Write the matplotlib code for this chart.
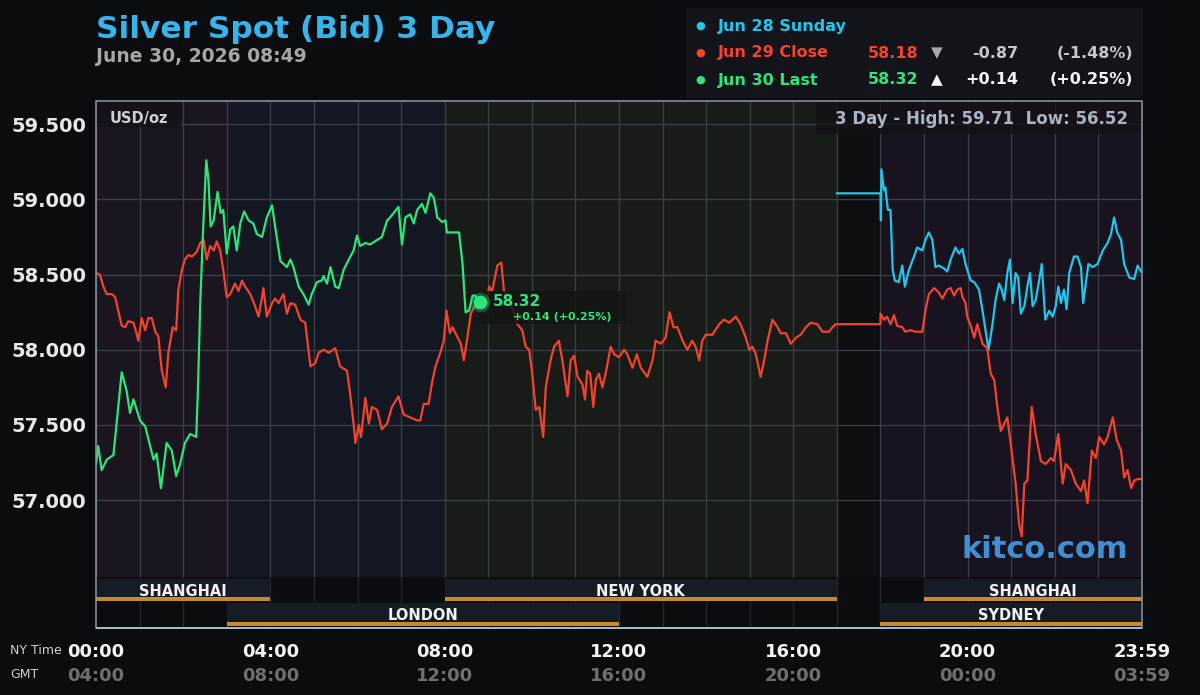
import matplotlib.pyplot as plt
from matplotlib.patches import Rectangle

# time in hours (NY time), price in USD/oz
jun30_t = [0.0, 0.05, 0.13, 0.25, 0.40, 0.59, 0.70, 0.78, 0.86, 1.01, 1.13, 1.32, 1.39, 1.49, 1.62, 1.74, 1.84, 1.93,
           2.04, 2.16, 2.30, 2.34, 2.39, 2.45, 2.53, 2.58, 2.63, 2.70, 2.79, 2.86, 2.92, 3.00, 3.08, 3.15, 3.23, 3.31,
           3.40, 3.50, 3.61, 3.69, 3.81, 3.92, 4.04, 4.11, 4.23, 4.38, 4.46, 4.53, 4.65, 4.76, 4.88, 4.95, 5.07, 5.18,
           5.22, 5.30, 5.38, 5.49, 5.57, 5.68, 5.80, 5.91, 5.99, 6.06, 6.18, 6.29, 6.45, 6.56, 6.68, 6.75, 6.83, 6.94,
           7.02, 7.10, 7.21, 7.29, 7.37, 7.48, 7.56, 7.67, 7.75, 7.79, 7.83, 7.94, 8.02, 8.05, 8.33, 8.41, 8.48, 8.56,
           8.64, 8.71, 8.75, 8.82]
jun30_v = [57.24, 57.36, 57.20, 57.27, 57.30, 57.85, 57.73, 57.58, 57.67, 57.53, 57.49, 57.27, 57.31, 57.08, 57.38,
           57.33, 57.16, 57.24, 57.38, 57.44, 57.42, 57.75, 58.29, 58.75, 59.26, 59.13, 58.82, 58.86, 59.05, 58.91,
           58.93, 58.64, 58.80, 58.82, 58.66, 58.84, 58.92, 58.86, 58.84, 58.77, 58.75, 58.88, 58.96, 58.82, 58.59,
           58.55, 58.60, 58.55, 58.42, 58.37, 58.30, 58.37, 58.45, 58.46, 58.49, 58.44, 58.55, 58.42, 58.41, 58.53,
           58.60, 58.66, 58.76, 58.69, 58.71, 58.70, 58.73, 58.75, 58.86, 58.88, 58.91, 58.95, 58.70, 58.88, 58.90,
           58.84, 58.93, 58.97, 58.91, 59.04, 59.01, 58.95, 58.88, 58.85, 58.86, 58.78, 58.78, 58.57, 58.25, 58.26,
           58.36, 58.36, 58.28, 58.32]

jun29_t = [0.0, 0.09, 0.17, 0.245, 0.36, 0.44, 0.51, 0.59, 0.67, 0.74, 0.86, 0.93, 0.97, 1.05, 1.13, 1.20, 1.28, 1.36,
           1.43, 1.51, 1.60, 1.66, 1.76, 1.84, 1.89, 1.97, 2.04, 2.12, 2.20, 2.31, 2.39, 2.47, 2.54, 2.62, 2.70, 2.77,
           2.85, 2.92, 3.00, 3.08, 3.19, 3.27, 3.35, 3.42, 3.54, 3.65, 3.73, 3.81, 3.84, 3.92, 4.04, 4.11, 4.19, 4.30,
           4.38, 4.46, 4.57, 4.69, 4.80, 4.92, 5.03, 5.11, 5.22, 5.34, 5.49, 5.60, 5.76, 5.83, 5.91, 5.95, 6.03, 6.08,
           6.18, 6.26, 6.33, 6.45, 6.56, 6.68, 6.79, 6.94, 7.06, 7.21, 7.37, 7.44, 7.52, 7.63, 7.71, 7.79, 7.90, 7.98,
           8.04, 8.12,
           8.18, 8.25, 8.37, 8.44, 8.52, 8.60, 8.67, 8.79, 8.94, 9.02, 9.09, 9.21, 9.30, 9.36, 9.51, 9.67, 9.78, 9.86,
           9.94, 10.01, 10.09, 10.17, 10.26, 10.32, 10.43, 10.51, 10.62, 10.70, 10.82, 10.89, 10.97, 11.05, 11.16,
           11.22, 11.27, 11.34, 11.41, 11.47, 11.54, 11.62, 11.70, 11.81, 11.89, 12.00, 12.12, 12.19, 12.31, 12.41,
           12.50, 12.65, 12.77, 12.84, 12.96, 13.07, 13.16, 13.25, 13.34, 13.46, 13.57, 13.68, 13.76, 13.84, 13.91,
           13.99, 14.14, 14.30, 14.41, 14.53, 14.68, 14.79, 14.91, 14.99, 15.06, 15.14, 15.25, 15.33, 15.41, 15.52,
           15.64, 15.71, 15.83, 15.94, 16.06, 16.17, 16.29, 16.40, 16.55, 16.67, 16.82, 16.90, 16.97, 18.0,
           18.0, 18.08, 18.15, 18.23, 18.31, 18.38, 18.50, 18.57, 18.69, 18.80, 18.96, 19.03, 19.11, 19.23, 19.34,
           19.42, 19.53, 19.61, 19.69, 19.76, 19.84, 19.88, 19.95, 19.99, 20.07, 20.15, 20.22, 20.34, 20.45, 20.53,
           20.61, 20.68, 20.76, 20.84, 20.91, 20.99, 21.10, 21.18, 21.24, 21.30, 21.37, 21.47, 21.56, 21.68, 21.79,
           21.91, 21.98, 22.08, 22.18, 22.25, 22.37, 22.48, 22.60, 22.67, 22.75, 22.85, 22.94, 23.02, 23.13, 23.21,
           23.33, 23.42, 23.52, 23.59, 23.67, 23.75, 23.82, 23.90, 24.0]
jun29_v = [58.51, 58.50, 58.42, 58.37, 58.37, 58.35, 58.26, 58.16, 58.15, 58.19, 58.18, 58.11, 58.06, 58.21, 58.13,
           58.21, 58.21, 58.12, 58.09, 57.86, 57.75, 57.98, 58.15, 58.13, 58.40, 58.53, 58.60, 58.63, 58.62, 58.65,
           58.71, 58.73, 58.60, 58.69, 58.66, 58.72, 58.66, 58.53, 58.35, 58.37, 58.44, 58.39, 58.46, 58.42, 58.37,
           58.29, 58.22, 58.35, 58.41, 58.22, 58.31, 58.34, 58.31, 58.37, 58.24, 58.31, 58.30, 58.20, 58.18, 57.89,
           57.91, 57.98, 58.00, 57.98, 58.01, 57.89, 57.86, 57.71, 57.51, 57.38, 57.50, 57.42, 57.68, 57.51, 57.62,
           57.60, 57.47, 57.51, 57.62, 57.69, 57.57, 57.55, 57.53, 57.53, 57.64, 57.64, 57.78, 57.89, 57.98, 58.06,
           58.26, 58.11,
           58.15, 58.11, 58.04, 57.93, 58.08, 58.24, 58.28, 58.33, 58.25, 58.42, 58.39, 58.56, 58.58, 58.39, 58.31,
           58.17, 58.13, 58.02, 58.00, 57.84, 57.60, 57.62, 57.42, 57.75, 57.93, 58.02, 58.06, 57.93, 57.69, 57.93,
           57.96, 57.82, 57.77, 57.67, 57.86, 57.84, 57.62, 57.80, 57.84, 57.75, 57.85, 58.02, 57.97, 57.95, 58.00,
           57.97, 57.88, 57.97, 57.88, 57.82, 57.93, 58.06, 58.04, 58.08, 58.25, 58.15, 58.15, 58.06, 58.00, 58.06,
           58.02, 57.93, 58.06, 58.10, 58.10, 58.17, 58.20, 58.18, 58.22, 58.17, 58.08, 58.00, 58.02, 57.97, 57.82,
           57.93, 58.06, 58.20, 58.15, 58.11, 58.11, 58.04, 58.08, 58.10, 58.15, 58.18, 58.17, 58.12, 58.12, 58.15,
           58.17, 58.17,
           58.24, 58.20, 58.22, 58.17, 58.23, 58.16, 58.15, 58.12, 58.13, 58.12, 58.12, 58.26, 58.37, 58.41, 58.38,
           58.34, 58.40, 58.41, 58.36, 58.40, 58.41, 58.35, 58.31, 58.22, 58.16, 58.08, 58.17, 58.04, 58.01, 57.84,
           57.80, 57.62, 57.46, 57.51, 57.55, 57.37, 57.11, 56.84, 56.76, 57.11, 57.13, 57.62, 57.44, 57.26, 57.24,
           57.28, 57.26, 57.44, 57.11, 57.24, 57.20, 57.11, 57.06, 57.13, 56.98, 57.33, 57.28, 57.42, 57.37, 57.42,
           57.55, 57.40, 57.33, 57.15, 57.20, 57.08, 57.13, 57.14, 57.14]

jun28_t = [17.0, 18.0, 18.01, 18.02, 18.08, 18.11, 18.17, 18.23, 18.28, 18.33, 18.42, 18.50, 18.56, 18.65, 18.77,
           18.84, 18.96, 19.03, 19.11, 19.19, 19.26, 19.34, 19.46, 19.53, 19.61, 19.72, 19.80, 19.88, 19.95, 20.07,
           20.15, 20.26, 20.34, 20.41, 20.48, 20.57, 20.64, 20.72, 20.78, 20.84, 20.91, 20.97, 21.03, 21.10, 21.16,
           21.22, 21.30, 21.37, 21.43, 21.49, 21.56, 21.64, 21.70, 21.78, 21.87, 21.95, 22.02, 22.08, 22.14, 22.21,
           22.27, 22.33, 22.44, 22.52, 22.60, 22.65, 22.71, 22.77, 22.87, 22.98, 23.10, 23.21, 23.29, 23.36, 23.43,
           23.52, 23.59, 23.71, 23.82, 23.90, 23.98]
jun28_v = [59.04, 59.04, 58.86, 59.20, 59.06, 59.08, 58.93, 58.93, 58.53, 58.46, 58.45, 58.56, 58.42, 58.53, 58.62,
           58.68, 58.66, 58.73, 58.78, 58.73, 58.55, 58.56, 58.54, 58.52, 58.60, 58.68, 58.64, 58.67, 58.57, 58.46,
           58.45, 58.40, 58.26, 58.13, 58.00, 58.17, 58.33, 58.44, 58.40, 58.33, 58.51, 58.60, 58.31, 58.51, 58.48,
           58.24, 58.29, 58.42, 58.51, 58.29, 58.33, 58.46, 58.57, 58.20, 58.26, 58.22, 58.29, 58.42, 58.31, 58.40,
           58.27, 58.51, 58.62, 58.62, 58.55, 58.31, 58.44, 58.57, 58.55, 58.57, 58.66, 58.71, 58.77, 58.88, 58.78,
           58.73, 58.57, 58.48, 58.47, 58.56, 58.52]

y_ticks = [57.0, 57.5, 58.0, 58.5, 59.0, 59.5]
x_ticks = [0, 4, 8, 12, 16, 20, 24]
ny_labels = ['00:00', '04:00', '08:00', '12:00', '16:00', '20:00', '23:59']
gmt_labels = ['04:00', '08:00', '12:00', '16:00', '20:00', '00:00', '03:59']

zones = [(0, 3), (3, 8), (8, 17), (17, 18), (18, 24)]
zone_colors = ['#1b1520', '#121722', '#181c19', '#0e0e10', '#18131e']

sessions_top = [('SHANGHAI', 0, 4), ('NEW YORK', 8, 17), ('SHANGHAI', 19, 24)]
sessions_bottom = [('LONDON', 3, 12), ('SYDNEY', 18, 24)]

legend_names = ['Jun 28 Sunday', 'Jun 29 Close', 'Jun 30 Last']
legend_prices = ['', '58.18', '58.32']
legend_arrows = ['', '\u25bc', '\u25b2']
legend_chg = ['', '-0.87', '+0.14']
legend_pct = ['', '(-1.48%)', '(+0.25%)']

BG = '#0b0c10'
CYAN = '#22c6ea'
RED = '#f2432f'
GREEN = '#2ee57c'
W, H = 1200, 695

fig = plt.figure(figsize=(12, 6.95), dpi=100, facecolor=BG)


def fig_rect(x0, y0, x1, y1, **kw):
    # rectangle given in figure pixels (y down)
    return Rectangle((x0 / W, 1 - y1 / H), (x1 - x0) / W, (y1 - y0) / H,
                     transform=fig.transFigure, **kw)


ax = fig.add_axes([96 / W, 1 - 577 / H, 1046 / W, 476 / H])
ax.set_facecolor(BG)
ax.set_xlim(0, 24)
ax.set_ylim(56.489, 59.654)
for (a, b), c in zip(zones, zone_colors):
    ax.axvspan(a, b, color=c, lw=0, zorder=0)

ax.set_xticks(range(25))
ax.set_xticklabels([])
ax.set_yticks(y_ticks)
ax.set_yticklabels(['%.3f' % v for v in y_ticks], fontsize=14, fontweight='bold', color='#e8e8e8')
ax.tick_params(length=0, pad=7)
ax.grid(color='#3b3f48', lw=0.9, zorder=1)
ax.set_axisbelow(False)
for s in ax.spines.values():
    s.set_visible(False)

ax.plot(jun28_t, jun28_v, color=CYAN, lw=1.6, zorder=3)
ax.plot(jun29_t, jun29_v, color=RED, lw=1.6, zorder=4)
ax.plot(jun30_t, jun30_v, color=GREEN, lw=1.6, zorder=5)

# label boxes
ax.add_patch(fig_rect(96, 101, 181, 127, color='#151118', alpha=0.9, lw=0, zorder=6))
ax.text(110 / W, 1 - 119 / H, 'USD/oz', transform=fig.transFigure, fontsize=10.5, fontweight='bold',
        color='#cfcfd4', va='center', zorder=7)
ax.add_patch(fig_rect(816, 102, 1141, 134, color='#121116', alpha=0.8, lw=0, zorder=6))
ax.text(1128 / W, 1 - 119 / H, '3 Day - High: 59.71  Low: 56.52', transform=fig.transFigure,
        fontsize=12, fontweight='bold', color='#a9b3c4', va='center', ha='right', zorder=7)

# last price marker and label
ax.add_patch(fig_rect(478, 291, 626, 324, color='#141614', alpha=0.85, lw=0, zorder=6))
ax.plot(jun30_t[-1:], jun30_v[-1:], 'o', color=GREEN, ms=13, alpha=0.25, zorder=8)
ax.plot(jun30_t[-1:], jun30_v[-1:], 'o', color=GREEN, ms=9, zorder=8)
ax.text(493 / W, 1 - 302 / H, legend_prices[2], transform=fig.transFigure, fontsize=11, fontweight='bold',
        color=GREEN, va='center', zorder=8)
ax.text(513 / W, 1 - 317 / H, legend_chg[2] + ' ' + legend_pct[2], transform=fig.transFigure, fontsize=8,
        fontweight='bold', color=GREEN, va='center', zorder=8)

ax.text(1128 / W, 1 - 550 / H, 'kitco.com', transform=fig.transFigure, fontsize=22, fontweight='bold',
        color='#3d90d4', ha='right', va='center', zorder=7)

# session bands
sax = fig.add_axes([96 / W, 1 - 628 / H, 1046 / W, 51 / H])
sax.set_facecolor('#0c0d10')
sax.set_xlim(0, 24)
sax.set_ylim(628, 577)
sax.axis('off')
for h in range(1, 24):
    sax.plot([h, h], [577, 628], color='#24272e', lw=0.9, zorder=1)
for rows, top, bot, ty in [(sessions_top, 579, 601, 591), (sessions_bottom, 603, 626, 615.5)]:
    for name, a, b in rows:
        sax.add_patch(Rectangle((a, top), b - a, bot - top, color='#161c26', lw=0, zorder=1.5))
        sax.add_patch(Rectangle((a, bot - 4.5), b - a, 4, color='#c58a2a', lw=0, zorder=2))
        sax.text((a + b) / 2, ty, name, fontsize=10.5, fontweight='bold', color='#f2f2f2',
                 ha='center', va='center', zorder=3)

# frame around chart
fig.patches.append(fig_rect(96, 101, 1142, 628, fill=False, ec='#8d96a4', lw=1.1))
fig.patches.append(fig_rect(96, 627, 1142, 628.5, color='#a8b6ca', lw=0))

# x labels
for t, ny, gmt in zip(x_ticks, ny_labels, gmt_labels):
    xf = (96 + t * 1046 / 24) / W
    fig.text(xf, 1 - 652 / H, ny, fontsize=13, fontweight='bold', color='#f4f4f4', ha='center', va='center')
    fig.text(xf, 1 - 676 / H, gmt, fontsize=13, fontweight='bold', color='#6f6f72', ha='center', va='center')
fig.text(10 / W, 1 - 650 / H, 'NY Time', fontsize=9, color='#d0d0d0', va='center')
fig.text(10 / W, 1 - 674 / H, 'GMT', fontsize=9, color='#d0d0d0', va='center')

# title
fig.text(96 / W, 1 - 29 / H, 'Silver Spot (Bid) 3 Day', fontsize=22.5, fontweight='bold', color='#36b4ec', va='center')
fig.text(96 / W, 1 - 57 / H, 'June 30, 2026 08:49', fontsize=13.5, fontweight='bold', color='#a6a6a8', va='center')

# legend block
fig.patches.append(fig_rect(686, 8, 1143, 98, color='#121419', lw=0))
colors = [CYAN, RED, GREEN]
for i, name in enumerate(legend_names):
    yf = 1 - (26 + 27 * i) / H
    fig.text(700 / W, yf, '\u25cf', fontsize=8, color=colors[i], ha='center', va='center')
    fig.text(718 / W, yf, name, fontsize=11.5, fontweight='bold', color=colors[i], va='center')
    if legend_prices[i]:
        light = '#c6c6c8' if i == 1 else '#f4f4f4'
        fig.text(918 / W, yf, legend_prices[i], fontsize=11.5, fontweight='bold', color=colors[i],
                 ha='right', va='center')
        fig.text(937 / W, yf, legend_arrows[i], fontsize=11, fontweight='bold',
                 color='#a8a8aa' if i == 1 else '#f4f4f4', ha='center', va='center')
        fig.text(1018 / W, yf, legend_chg[i], fontsize=11.5, fontweight='bold', color=light,
                 ha='right', va='center')
        fig.text(1133 / W, yf, legend_pct[i], fontsize=11.5, fontweight='bold', color=light,
                 ha='right', va='center')

fig.savefig('out.png', dpi=100, facecolor=BG)
